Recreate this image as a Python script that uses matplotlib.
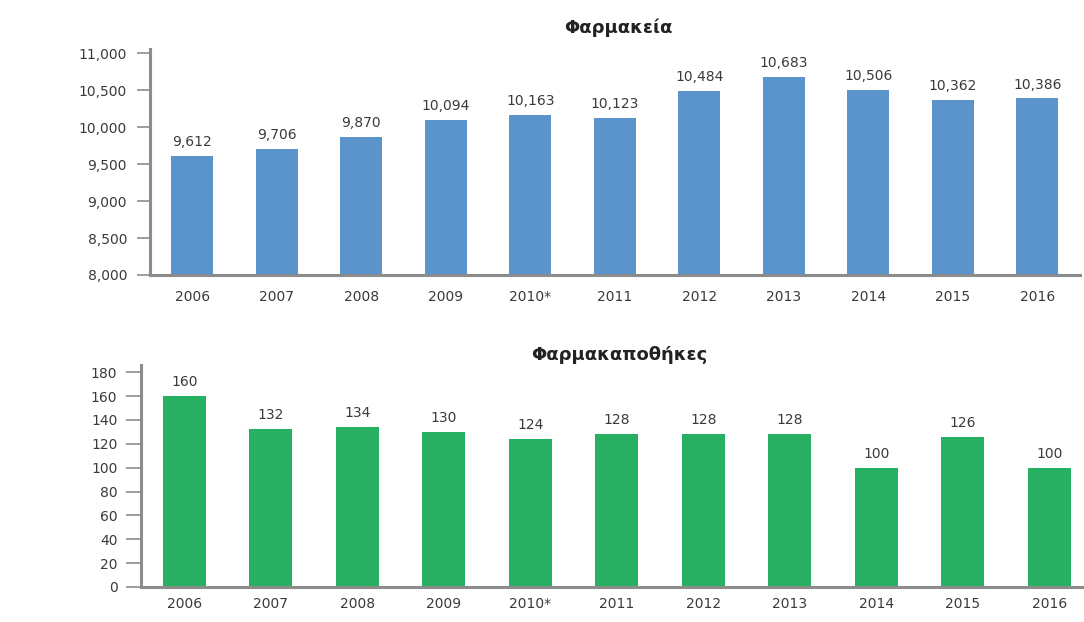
"""
Pharmacies and pharmaceutical wholesalers in Greece, 2006-2016
"""
import matplotlib
matplotlib.use("Agg")
import matplotlib.pyplot as plt
from matplotlib.ticker import FuncFormatter

years = ["2006", "2007", "2008", "2009", "2010*", "2011",
         "2012", "2013", "2014", "2015", "2016"]
pharmacies = [9612, 9706, 9870, 10094, 10163, 10123,
              10484, 10683, 10506, 10362, 10386]
wholesalers = [160, 132, 134, 130, 124, 128, 128, 128, 100, 126, 100]

pharmacy_ticks = [8000, 8500, 9000, 9500, 10000, 10500, 11000]
wholesaler_ticks = list(range(0, 181, 20))

BLUE = "#5b93cb"
GREEN = "#28b062"
AXIS = "#8c8c8c"
TEXT = "#3a3a3a"
FS = 10

plt.rcParams["font.family"] = ["DejaVu Sans"]


def style_axis(ax, tick_len, label_pad):
    for side in ("top", "right"):
        ax.spines[side].set_visible(False)
    for side in ("left", "bottom"):
        ax.spines[side].set_color(AXIS)
        ax.spines[side].set_linewidth(2.2)
    ax.tick_params(axis="y", length=tick_len, width=1.2, color=AXIS,
                   pad=label_pad, labelsize=FS, labelcolor=TEXT)
    ax.tick_params(axis="x", length=0, labelsize=FS, labelcolor=TEXT)


def bar_labels(ax, values, fmt):
    for i, v in enumerate(values):
        ax.annotate(fmt(v), (i, v), xytext=(0, 5), textcoords="offset points",
                    ha="center", va="bottom", fontsize=FS, color=TEXT)


fig = plt.figure(figsize=(10.84, 6.22), dpi=100)
fig.patch.set_facecolor("white")

# top panel: pharmacies
ax1 = fig.add_axes([0.1384, 0.5579, 0.8575, 0.3633])
x = range(len(years))
ax1.bar(x, pharmacies, width=0.5, color=BLUE)
ax1.set_xlim(-0.5, len(years) - 0.5)
ax1.set_ylim(8000, 11055)
ax1.set_yticks(pharmacy_ticks)
ax1.yaxis.set_major_formatter(FuncFormatter(lambda v, p: f"{int(v):,}"))
ax1.set_xticks(list(x))
ax1.set_xticklabels(years)
style_axis(ax1, tick_len=9.5, label_pad=7)
ax1.tick_params(axis="x", pad=11)
bar_labels(ax1, pharmacies, lambda v: f"{v:,}")

# bottom panel: wholesalers
ax2 = fig.add_axes([0.1301, 0.0563, 0.8778, 0.3569])
ax2.bar(x, wholesalers, width=0.5, color=GREEN)
ax2.set_xlim(-0.5, len(years) - 0.5)
ax2.set_ylim(0, 186)
ax2.set_yticks(wholesaler_ticks)
ax2.set_xticks(list(x))
ax2.set_xticklabels(years)
style_axis(ax2, tick_len=11, label_pad=6)
ax2.tick_params(axis="x", pad=7)
bar_labels(ax2, wholesalers, lambda v: f"{v}")

fig.text(0.570, 1 - 28 / 622, "Φαρμακεία", ha="center", va="center",
         fontsize=13, fontweight="bold", color="#222222")
fig.text(0.571, 1 - 355 / 622, "Φαρμακαποθήκες", ha="center", va="center",
         fontsize=13, fontweight="bold", color="#222222")

fig.savefig("out.png", dpi=100, facecolor="white")
